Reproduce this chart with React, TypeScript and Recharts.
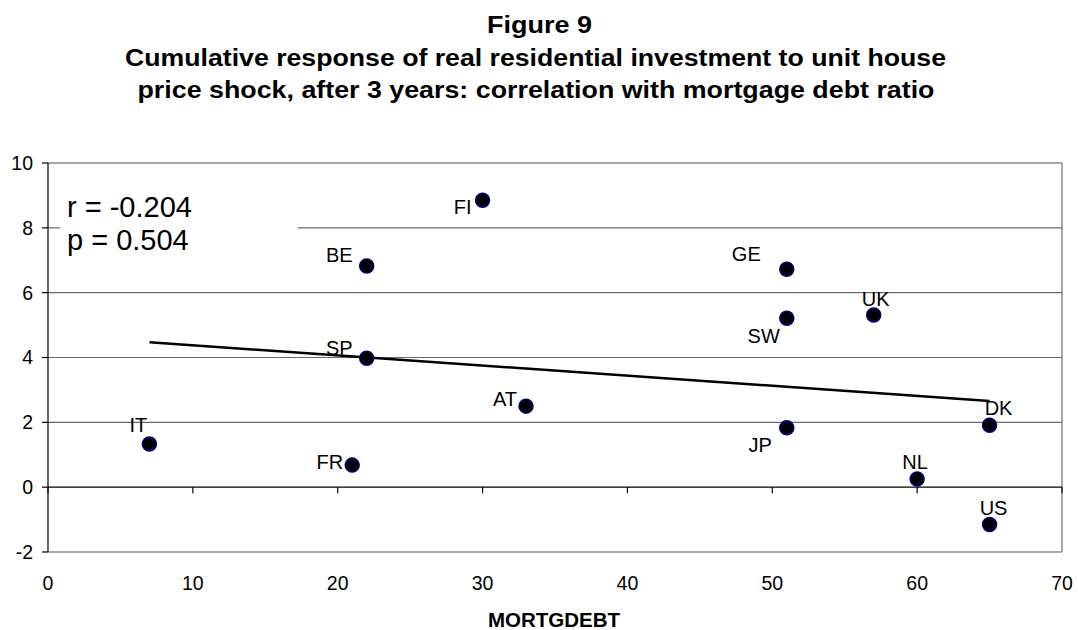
import React from 'react'
import { ScatterChart, Scatter, XAxis, YAxis, ReferenceLine } from 'recharts'

// country codes, mortgage debt ratio (x) and cumulative response (y)
const countries = ['FI', 'BE', 'GE', 'UK', 'SW', 'SP', 'AT', 'IT', 'FR', 'JP', 'DK', 'NL', 'US']
const mortgDebt = [30, 22, 51, 57, 51, 22, 33, 7, 21, 51, 65, 60, 65]
const response = [8.85, 6.82, 6.72, 5.31, 5.21, 3.98, 2.5, 1.33, 0.68, 1.83, 1.91, 0.25, -1.15]

// fitted regression line end points
const trendX = [7, 65]
const trendY = [4.47, 2.66]

const xTicks = [0, 10, 20, 30, 40, 50, 60, 70]
const yTicks = [-2, 0, 2, 4, 6, 8, 10]

const points = countries.map((name, i) => ({ name, x: mortgDebt[i], y: response[i] }))
const trend = trendX.map((x, i) => ({ x, y: trendY[i] }))

// where each country label sits relative to its marker
const LABEL_POS: Record<string, { anchor: 'start' | 'middle' | 'end'; dx: number; dy: number }> = {
  FI: { anchor: 'end', dx: -11, dy: 7 },
  BE: { anchor: 'end', dx: -14, dy: -11 },
  SP: { anchor: 'end', dx: -14, dy: -10 },
  AT: { anchor: 'end', dx: -9, dy: -7 },
  GE: { anchor: 'end', dx: -26, dy: -15 },
  UK: { anchor: 'middle', dx: 2, dy: -16 },
  SW: { anchor: 'end', dx: -7, dy: 18 },
  IT: { anchor: 'middle', dx: -11, dy: -19 },
  FR: { anchor: 'end', dx: -9, dy: -3 },
  JP: { anchor: 'end', dx: -15, dy: 17 },
  DK: { anchor: 'middle', dx: 9, dy: -17 },
  NL: { anchor: 'middle', dx: -2, dy: -17 },
  US: { anchor: 'middle', dx: 4, dy: -16 },
}

const FONT = '"Liberation Sans", Arial, sans-serif'
const GRID = '#6a6a6a'
const BORDER = '#8a8a8a'

const Dot = (props: any) => {
  const { cx, cy, payload } = props
  const pos = LABEL_POS[payload.name] || { anchor: 'middle', dx: 0, dy: -16 }
  return (
    <g>
      <circle cx={cx} cy={cy} r={7} fill="#000" stroke="#000080" strokeWidth={1.5} />
      <text
        x={cx + pos.dx}
        y={cy + pos.dy + 7}
        textAnchor={pos.anchor}
        fontFamily={FONT}
        fontSize={20}
        fill="#000"
      >
        {payload.name}
      </text>
    </g>
  )
}

// zero line with small downward tick marks at each x tick
const ZeroAxis = (props: any) => {
  const { x1, y1, x2, y2 } = props
  const n = xTicks.length - 1
  return (
    <g>
      <line x1={x1} y1={y1} x2={x2} y2={y2} stroke="#000" strokeWidth={1.2} />
      {xTicks.map((t, i) => {
        const x = x1 + ((x2 - x1) * i) / n
        return <line key={t} x1={x} y1={y1} x2={x} y2={y1 + 6} stroke="#000" strokeWidth={1.2} />
      })}
    </g>
  )
}

const App = () => {
  return (
    <div style={{ position: 'absolute', left: 0, top: 0, width: 1078, height: 630, background: '#fff' }}>
      <ScatterChart
        width={1078}
        height={630}
        margin={{ top: 163, right: 16, bottom: 0, left: 0 }}
        style={{ fontFamily: FONT }}
      >
        <XAxis
          type="number"
          dataKey="x"
          domain={[0, 70]}
          ticks={xTicks}
          height={78}
          axisLine={false}
          tickLine={false}
          tickSize={0}
          tickMargin={24}
          tick={{ fill: '#000', fontSize: 19.5, fontFamily: FONT }}
          allowDataOverflow
        />
        <YAxis
          type="number"
          dataKey="y"
          domain={[-2, 10]}
          ticks={yTicks}
          width={48}
          axisLine={{ stroke: '#000', strokeWidth: 1.2 }}
          tickLine={{ stroke: '#000', strokeWidth: 1.2 }}
          tickSize={6}
          tickMargin={9}
          tick={{ fill: '#000', fontSize: 19.5, fontFamily: FONT }}
          allowDataOverflow
        />
        <ReferenceLine y={10} stroke={BORDER} strokeWidth={1.5} />
        <ReferenceLine y={-2} stroke={BORDER} strokeWidth={1.5} />
        <ReferenceLine x={70} stroke={BORDER} strokeWidth={1.5} />
        <ReferenceLine y={6} stroke={GRID} strokeWidth={1.2} />
        <ReferenceLine y={4} stroke={GRID} strokeWidth={1.2} />
        <ReferenceLine y={2} stroke={GRID} strokeWidth={1.2} />
        {/* the 8 gridline is hidden behind the r / p text box */}
        <ReferenceLine segment={[{ x: 0, y: 8 }, { x: 0.85, y: 8 }]} stroke={GRID} strokeWidth={1.2} />
        <ReferenceLine segment={[{ x: 17.25, y: 8 }, { x: 70, y: 8 }]} stroke={GRID} strokeWidth={1.2} />
        <ReferenceLine y={0} shape={ZeroAxis} />
        <Scatter
          data={trend}
          line={{ stroke: '#000', strokeWidth: 2.5 }}
          shape={() => <g />}
          isAnimationActive={false}
        />
        <Scatter data={points} shape={Dot} isAnimationActive={false} />
      </ScatterChart>
      <svg
        width={1078}
        height={630}
        style={{ position: 'absolute', left: 0, top: 0, pointerEvents: 'none' }}
        fontFamily={FONT}
      >
        <text x={539.5} y={33} textAnchor="middle" fontSize={23} fontWeight="bold" textLength={105} lengthAdjust="spacingAndGlyphs">
          Figure 9
        </text>
        <text x={535.5} y={65.5} textAnchor="middle" fontSize={23} fontWeight="bold" textLength={821} lengthAdjust="spacingAndGlyphs">
          Cumulative response of real residential investment to unit house
        </text>
        <text x={536} y={97.5} textAnchor="middle" fontSize={23} fontWeight="bold" textLength={797} lengthAdjust="spacingAndGlyphs">
          price shock, after 3 years: correlation with mortgage debt ratio
        </text>
        <text x={67} y={217} fontSize={29}>r = -0.204</text>
        <text x={67} y={250} fontSize={29}>p = 0.504</text>
        <text x={554} y={627} textAnchor="middle" fontSize={20.5} fontWeight="bold">
          MORTGDEBT
        </text>
      </svg>
    </div>
  )
}

export default App
